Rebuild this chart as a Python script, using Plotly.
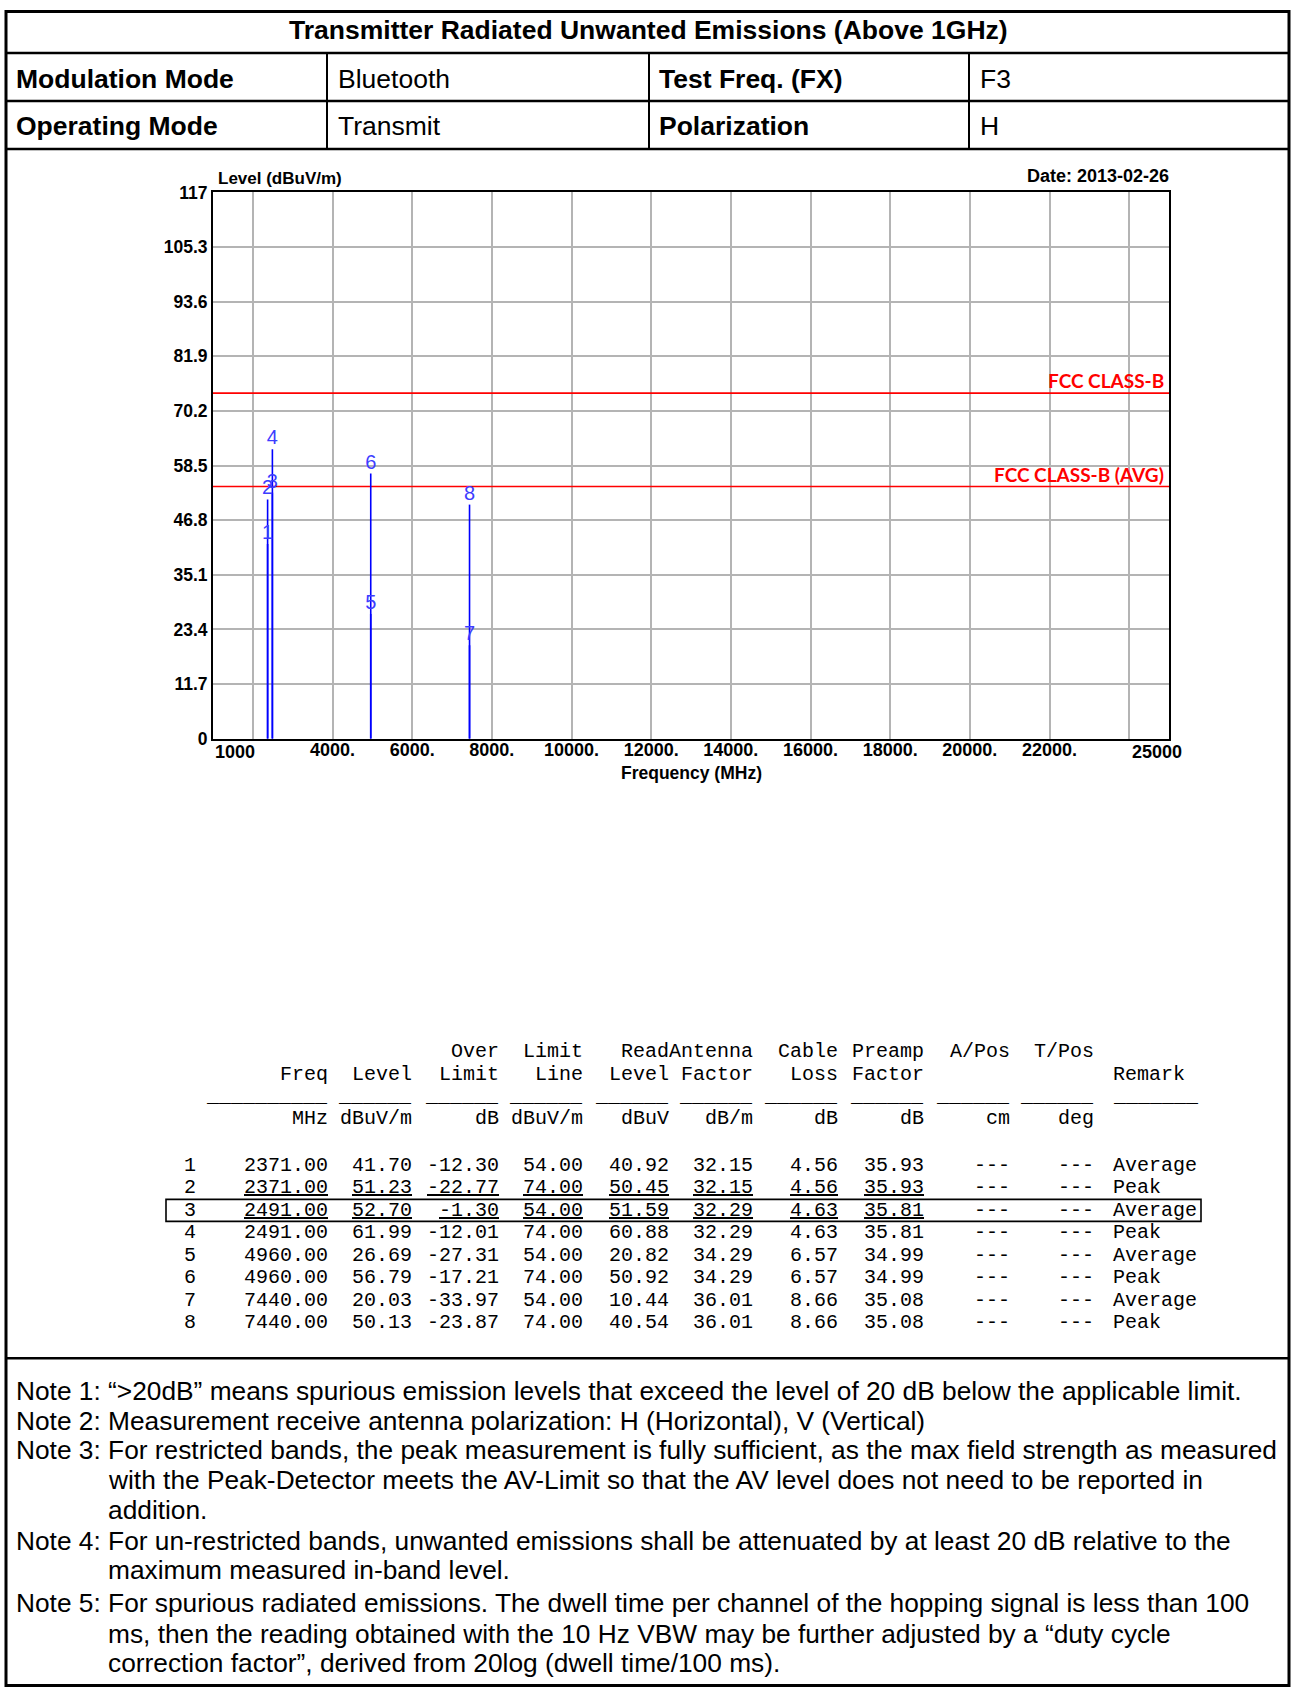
import plotly.graph_objects as go

W, H = 1292, 1697

# ---------------- header table ----------------
title_text = "Transmitter Radiated Unwanted Emissions (Above 1GHz)"
row1_cells = ["Modulation Mode", "Bluetooth", "Test Freq. (FX)", "F3"]
row2_cells = ["Operating Mode", "Transmit", "Polarization", "H"]
cell_bold = [True, False, True, False]

# ---------------- chart data ----------------
marker_no = [1, 2, 3, 4, 5, 6, 7, 8]
freq_mhz = [2371.00, 2371.00, 2491.00, 2491.00, 4960.00, 4960.00, 7440.00, 7440.00]
level = [41.70, 51.23, 52.70, 61.99, 26.69, 56.79, 20.03, 50.13]
over_limit = [-12.30, -22.77, -1.30, -12.01, -27.31, -17.21, -33.97, -23.87]
limit_line = [54.00, 74.00, 54.00, 74.00, 54.00, 74.00, 54.00, 74.00]
read_level = [40.92, 50.45, 51.59, 60.88, 20.82, 50.92, 10.44, 40.54]
antenna_factor = [32.15, 32.15, 32.29, 32.29, 34.29, 34.29, 36.01, 36.01]
cable_loss = [4.56, 4.56, 4.63, 4.63, 6.57, 6.57, 8.66, 8.66]
preamp_factor = [35.93, 35.93, 35.81, 35.81, 34.99, 34.99, 35.08, 35.08]
a_pos = ["---"] * 8
t_pos = ["---"] * 8
remark = ["Average", "Peak", "Average", "Peak", "Average", "Peak", "Average", "Peak"]

limit_names = ["FCC CLASS-B", "FCC CLASS-B (AVG)"]
limit_values = [74, 54]

x_range = [1000, 25000]
x_grid_vals = [2000, 4000, 6000, 8000, 10000, 12000, 14000, 16000, 18000, 20000, 22000, 24000]
x_tick_vals = [4000, 6000, 8000, 10000, 12000, 14000, 16000, 18000, 20000, 22000]
x_tick_text = ["4000.", "6000.", "8000.", "10000.", "12000.", "14000.", "16000.", "18000.", "20000.", "22000."]
x_end_vals = [1000, 25000]
x_end_text = ["1000", "25000"]
y_tick_vals = [0, 11.7, 23.4, 35.1, 46.8, 58.5, 70.2, 81.9, 93.6, 105.3, 117]
y_tick_text = ["0", "11.7", "23.4", "35.1", "46.8", "58.5", "70.2", "81.9", "93.6", "105.3", "117"]

y_title = "Level (dBuV/m)"
x_title = "Frequency (MHz)"
date_text = "Date: 2013-02-26"

# ---------------- data table text ----------------
hdr_line1 = ["", "", "Over", "Limit", "Read", "Antenna", "Cable", "Preamp", "A/Pos", "T/Pos"]
hdr_line2 = ["Freq", "Level", "Limit", "Line", "Level", "Factor", "Loss", "Factor", "", ""]
units = ["MHz", "dBuV/m", "dB", "dBuV/m", "dBuV", "dB/m", "dB", "dB", "cm", "deg"]
dash_len = [10, 6, 6, 6, 6, 6, 6, 6, 6, 6]
remark_header = "Remark"

notes = [
    ("Note 1: \u201c&gt;20dB\u201d means spurious emission levels that exceed the level of 20 dB below the applicable limit.", False),
    ("Note 2: Measurement receive antenna polarization: H (Horizontal), V (Vertical)", False),
    ("Note 3: For restricted bands, the peak measurement is fully sufficient, as the max field strength as measured", False),
    ("with the Peak-Detector meets the AV-Limit so that the AV level does not need to be reported in", True),
    ("addition.", True),
    ("Note 4: For un-restricted bands, unwanted emissions shall be attenuated by at least 20 dB relative to the", False),
    ("maximum measured in-band level.", True),
    ("Note 5: For spurious radiated emissions. The dwell time per channel of the hopping signal is less than 100", False),
    ("ms, then the reading obtained with the 10 Hz VBW may be further adjusted by a \u201cduty cycle", True),
    ("correction factor\u201d, derived from 20log (dwell time/100 ms).", True),
]

# ---------------- helpers ----------------
# vertical correction for the page capture (observed offset / compression)
V_OFF, V_SCALE = 9.0, 0.9887

def Y(y):
    v = (y - V_OFF) / V_SCALE
    return min(max(v, 1.5), H - 1.5)

def px(x):
    return x / W

def py(y):
    return 1 - Y(y) / H

SANS = "Liberation Sans, Arial, sans-serif"
MONO = "Liberation Mono, Courier New, monospace"

annotations = []
shapes = []

def text(x, y, s, size, anchor="left", bold=False, color="black", family=SANS, yanchor="middle"):
    annotations.append(dict(
        x=px(x), y=py(y), xref="paper", yref="paper", text=s, showarrow=False,
        xanchor=anchor, yanchor=yanchor,
        font=dict(family=family, size=size, color=color, weight="bold" if bold else "normal"),
    ))

def line(x0, y0, x1, y1, w=2, color="black"):
    shapes.append(dict(type="line", xref="paper", yref="paper",
                       x0=px(x0), y0=py(y0), x1=px(x1), y1=py(y1),
                       line=dict(color=color, width=w)))

# ---------------- frame of the page ----------------
L, R, T, B = 6, 1289, 5, 1690
shapes.append(dict(type="rect", xref="paper", yref="paper",
                   x0=px(L), y0=py(T), x1=px(R), y1=py(B), line=dict(color="black", width=3)))
for yy in [52, 100, 148, 1358]:
    line(L, yy, R, yy, 2.5)
for xx in [327, 649, 969]:
    line(xx, 52, xx, 148, 2)

text(648, 29, title_text, 26.5, anchor="center", bold=True)
col_x = [14, 336, 657, 978]
for i, c in enumerate(row1_cells):
    text(col_x[i], 78, c, 26.5, bold=cell_bold[i])
for i, c in enumerate(row2_cells):
    text(col_x[i], 125, c, 26.5, bold=cell_bold[i])

# ---------------- chart ----------------
PL, PR, PT, PB = 213, 1169, 191.5, 738

stem_x, stem_y = [], []
for f, lv in zip(freq_mhz, level):
    stem_x += [f, f, None]
    stem_y += [0, lv, None]

fig = go.Figure()
for lv in limit_values:
    fig.add_trace(go.Scatter(x=x_range, y=[lv, lv], mode="lines",
                             line=dict(color="#ff0000", width=1.6), hoverinfo="skip", showlegend=False))
fig.add_trace(go.Scatter(x=stem_x, y=stem_y, mode="lines",
                         line=dict(color="#0000ff", width=1.6), hoverinfo="skip", showlegend=False))
fig.add_trace(go.Scatter(x=freq_mhz, y=level, mode="text", text=[str(n) for n in marker_no],
                         textposition="top center",
                         textfont=dict(family=SANS, size=20, color="#3d3dff"),
                         hoverinfo="skip", showlegend=False))

for name, lv in zip(limit_names, limit_values):
    annotations.append(dict(x=x_range[1], y=lv, xref="x", yref="y", text=name, showarrow=False,
                            xanchor="right", yanchor="bottom", xshift=-3, yshift=-1,
                            font=dict(family="Lato, Liberation Sans, sans-serif", size=19,
                                      color="#ff0000", weight="bold")))

# end tick labels of x axis
annotations.append(dict(x=x_end_vals[0], y=0, xref="x", yref="y", text=x_end_text[0], showarrow=False,
                        xanchor="left", yanchor="top", yshift=-1,
                        font=dict(family=SANS, size=18, color="black", weight="bold")))
annotations.append(dict(x=x_end_vals[1], y=0, xref="x", yref="y", text=x_end_text[1], showarrow=False,
                        xanchor="center", yanchor="top", yshift=-1, xshift=-12,
                        font=dict(family=SANS, size=18, color="black", weight="bold")))

text(216, 178, y_title, 17, bold=True)
text(1171, 175, date_text, 18, anchor="right", bold=True)
text((PL + PR) / 2, 772, x_title, 17.5, anchor="center", bold=True)

# ---------------- data table ----------------
col_right = [330, 414, 501, 585, 671, 755, 840, 926, 1012, 1096]
remark_left = 1111
idx_center = 190
MS = 20

for j, s in enumerate(hdr_line1):
    if s:
        text(col_right[j], 1051, s, MS, anchor="right", family=MONO)
for j, s in enumerate(hdr_line2):
    if s:
        text(col_right[j], 1074, s, MS, anchor="right", family=MONO)
text(remark_left, 1074, remark_header, MS, family=MONO)
for j, n in enumerate(dash_len):
    text(col_right[j], 1096, "_" * n, MS, anchor="right", family=MONO)
text(remark_left, 1096, "_" * 7, MS, family=MONO)
for j, s in enumerate(units):
    text(col_right[j], 1118, s, MS, anchor="right", family=MONO)

row_y = [1165, 1187.5, 1210, 1232.5, 1255, 1277.5, 1300, 1322.5]
underlined = [2, 3]
for i in range(len(marker_no)):
    cells = ["%.2f" % freq_mhz[i], "%.2f" % level[i], "%.2f" % over_limit[i], "%.2f" % limit_line[i],
             "%.2f" % read_level[i], "%.2f" % antenna_factor[i], "%.2f" % cable_loss[i],
             "%.2f" % preamp_factor[i], a_pos[i], t_pos[i]]
    u = marker_no[i] in underlined
    text(idx_center, row_y[i], str(marker_no[i]), MS, anchor="center", family=MONO)
    for j, c in enumerate(cells):
        s = "<u>%s</u>" % c if (u and j < 8) else c
        text(col_right[j], row_y[i], s, MS, anchor="right", family=MONO)
    text(remark_left, row_y[i], remark[i], MS, family=MONO)

# box around the highlighted row
shapes.append(dict(type="rect", xref="paper", yref="paper",
                   x0=px(166), y0=py(1199), x1=px(1201), y1=py(1221),
                   line=dict(color="black", width=1.6)))

# ---------------- notes ----------------
note_y = [1391, 1421, 1450, 1480, 1510, 1541, 1570, 1603, 1634, 1663]
for (s, indent), yy in zip(notes, note_y):
    text(106 if indent else 14, yy, s, 26.3)

fig.update_layout(
    width=W, height=H, margin=dict(l=0, r=0, t=0, b=0),
    paper_bgcolor="white", plot_bgcolor="white",
    showlegend=False,
    xaxis=dict(domain=[px(PL), px(PR)], range=x_range, tickmode="array",
               tickvals=x_tick_vals, ticktext=x_tick_text, showgrid=False,
               minor=dict(tickmode="array", tickvals=x_grid_vals, showgrid=True,
                          gridcolor="#b4b4b4", gridwidth=1.5, ticks=""),
               showline=True, linecolor="black", linewidth=2, mirror=True, zeroline=False,
               ticks="", ticklabelstandoff=-6,
               tickfont=dict(family=SANS, size=18, color="black", weight="bold")),
    yaxis=dict(domain=[py(PB), py(PT)], range=[0, 117], tickmode="array",
               tickvals=y_tick_vals, ticktext=y_tick_text, showgrid=True,
               gridcolor="#b4b4b4", gridwidth=1.5,
               showline=True, linecolor="black", linewidth=2, mirror=True, zeroline=False,
               ticks="", tickfont=dict(family=SANS, size=17.5, color="black", weight="bold")),
    annotations=annotations, shapes=shapes,
)

post = (
    "document.documentElement.style.margin='0';"
    "document.body.style.margin='0';document.body.style.padding='0';"
    "document.documentElement.style.overflow='hidden';document.body.style.overflow='hidden';"
    "document.documentElement.style.height='%dpx';document.body.style.height='%dpx';"
    "var gd=document.querySelector('.plotly-graph-div');"
    "gd.style.position='fixed';gd.style.top='0px';gd.style.left='0px';"
) % (H, H)

fig.write_html("out.html", config={"displayModeBar": False}, post_script=post)
